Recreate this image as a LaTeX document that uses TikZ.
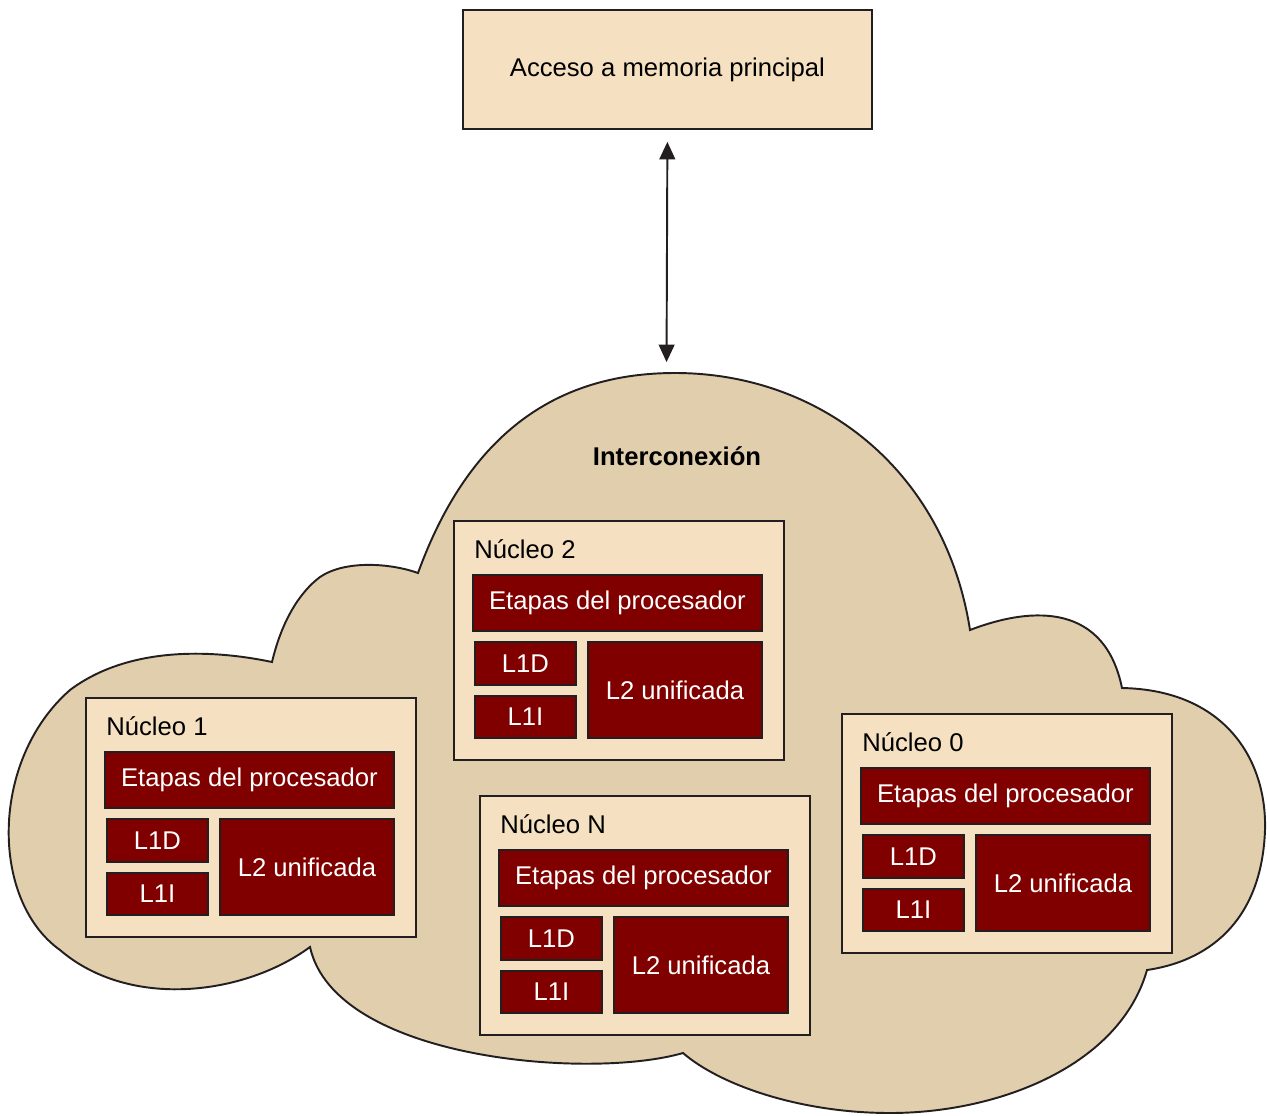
\documentclass[tikz,border=0pt]{standalone}
\usepackage{fontspec}
\setmainfont{Liberation Sans}
\usetikzlibrary{arrows.meta}
\definecolor{cloudfill}{RGB}{224,206,172}
\definecolor{boxfill}{RGB}{245,225,193}
\definecolor{cachered}{RGB}{128,0,0}
\definecolor{edgegray}{RGB}{35,31,32}

\begin{document}
\begin{tikzpicture}[x=0.02cm, y=-0.02cm,
                every node/.style={font=\fontsize{14.6}{17}\selectfont, inner sep=0pt},
                box_style/.style={draw=edgegray, line width=1.1pt, fill=boxfill, anchor=north west}]
                \tikzset{red box/.style={draw=edgegray, line width=1.1pt, fill=cachered, text=white, anchor=north west}}
                \useasboundingbox (0,0) rectangle (1267,1115);
                % la nube
                \draw [draw=edgegray, line width=1.1pt, fill=cloudfill]
                  (418,573) .. controls (470,430) and (560,373) .. (675,373)
                  .. controls (820,373) and (945,470) .. (970,630)
                  .. controls (1035,605) and (1105,605) .. (1122,688)
                  .. controls (1225,690) and (1267,760) .. (1265,830)
                  .. controls (1262,915) and (1215,960) .. (1147,970)
                  .. controls (1120,1065) and (1000,1113) .. (890,1113)
                  .. controls (800,1113) and (720,1085) .. (683,1053)
                  .. controls (590,1080) and (335,1060) .. (310,947)
                  .. controls (245,995) and (130,1010) .. (60,950)
                  .. controls (-10,900) and (-10,760) .. (70,690)
                  .. controls (130,645) and (215,650) .. (272,662)
                  .. controls (282,620) and (300,592) .. (320,577)
                  .. controls (345,560) and (390,563) .. (418,573) -- cycle;
                \coordinate (cloudtop) at (666.5,373);
                \node (inter) at (677,456) {\bfseries Interconexión};
                \node [box_style, minimum width=8.18cm, minimum height=2.38cm] (acceso) at (462,9) {Acceso a memoria principal};
                \draw [{Triangle[width=9pt,length=10pt]}-{Triangle[width=9pt,length=10pt]}, draw=edgegray, line width=1.1pt,
                  shorten <=6.8pt, shorten >=6.2pt] (acceso.south) -- (cloudtop);
                % los nucleos
                \foreach \n/\x/\y/\lab in {c1/85/697/1, c2/453/520/2, cN/479/795/N, c0/841/713/0} {
                  \node [box_style, minimum width=6.6cm, minimum height=4.78cm] (\n) at (\x,\y) {};
                  \node [anchor=west] (\n-lab) at ({\x+21},{\y+29}) {Núcleo \lab};
                  \node [red box, minimum width=5.78cm, minimum height=1.12cm] (\n-etapas) at ({\x+19},{\y+54}) {Etapas del procesador};
                  \node [red box, minimum width=2.02cm, minimum height=0.86cm] (\n-l1d) at ({\x+21},{\y+121}) {L1D};
                  \node [red box, minimum width=2.02cm, minimum height=0.84cm] (\n-l1i) at ({\x+21},{\y+175}) {L1I};
                  \node [red box, minimum width=3.48cm, minimum height=1.92cm] (\n-l2) at ({\x+134},{\y+121}) {L2 unificada};
                }
            \end{tikzpicture}
\end{document}
